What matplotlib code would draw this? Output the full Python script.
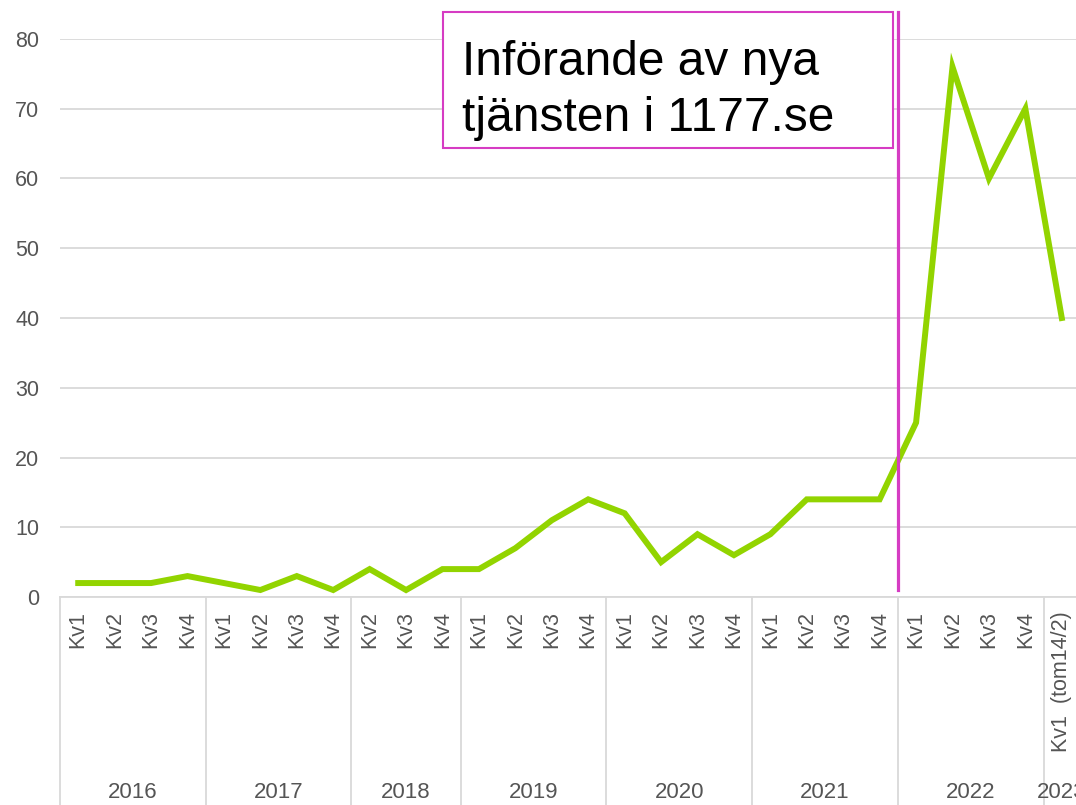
import matplotlib
matplotlib.use("Agg")
import matplotlib.pyplot as plt
import matplotlib.transforms as mtransforms
from matplotlib.lines import Line2D
from matplotlib.patches import Rectangle

plt.rcParams['font.family'] = ['Liberation Sans', 'DejaVu Sans']

# ---- data ----
years = ["2016", "2017", "2018", "2019", "2020", "2021", "2022", "2023"]
quarters = [
    ["Kv1", "Kv2", "Kv3", "Kv4"],
    ["Kv1", "Kv2", "Kv3", "Kv4"],
    ["Kv2", "Kv3", "Kv4"],
    ["Kv1", "Kv2", "Kv3", "Kv4"],
    ["Kv1", "Kv2", "Kv3", "Kv4"],
    ["Kv1", "Kv2", "Kv3", "Kv4"],
    ["Kv1", "Kv2", "Kv3", "Kv4"],
    ["Kv1  (tom14/2)"],
]
values = [2, 2, 2, 3,
          2, 1, 3, 1,
          4, 1, 4,
          4, 7, 11, 14,
          12, 5, 9, 6,
          9, 14, 14, 14,
          25, 76, 60, 70,
          40]
annotation_text = "Införande av nya\ntjänsten i 1177.se"

# ---- styles ----
GREEN = "#92D400"
PINK = "#D63CC3"
GRID = "#D9D9D9"
TXT = "#555555"

fig = plt.figure(figsize=(10.76, 8.05), dpi=100)
ax = fig.add_axes([60 / 1076, (805 - 597) / 805, 1020 / 1076, (597 - 39) / 805])

labels = [q for grp in quarters for q in grp]
x = list(range(len(labels)))
ax.plot(x, values, color=GREEN, lw=4.3, solid_joinstyle='miter', zorder=3)

ax.set_xlim(-0.5, len(labels) - 0.5)
ax.set_ylim(0, 80)
ax.set_yticks(range(0, 81, 10))
ax.yaxis.grid(True, color=GRID, lw=1.3)
ax.set_axisbelow(True)
ax.tick_params(axis='y', length=0, pad=15, labelsize=15.5, labelcolor=TXT)
ax.set_xticks(x)
ax.set_xticklabels(labels, rotation=90, fontsize=15.5, color=TXT)
ax.tick_params(axis='x', length=0, pad=10)
for s in ['top', 'right', 'left']:
    ax.spines[s].set_visible(False)
ax.spines['bottom'].set_color(GRID)
ax.spines['bottom'].set_linewidth(1.3)

# group separators and year labels
trans = mtransforms.blended_transform_factory(ax.transData, ax.transAxes)
start = 0
bounds = [start]
for grp in quarters:
    start += len(grp)
    bounds.append(start)
for b in bounds:
    ax.add_line(Line2D([b - 0.5, b - 0.5], [0, -0.38], transform=trans,
                       color=GRID, lw=1.3, clip_on=False))
for yr, a, b in zip(years, bounds[:-1], bounds[1:]):
    ax.text((a + b - 1) / 2, -0.351, yr, transform=trans, ha='center', va='center',
            fontsize=16, color=TXT, clip_on=False)

# vertical marker and annotation box
ax.plot([22.5, 22.5], [1.0, 83.9], color=PINK, lw=2.3, clip_on=False, zorder=4)
ax.add_patch(Rectangle((10.0, 64.4), 12.36, 19.5, fill=True, facecolor='white',
                       edgecolor=PINK, lw=1.5, clip_on=False, zorder=5))
ax.text(10.53, 79.9, annotation_text, fontsize=34.5, color='black', ha='left', va='top',
        linespacing=1.33, zorder=6, clip_on=False)

fig.savefig("out.png", dpi=100)
